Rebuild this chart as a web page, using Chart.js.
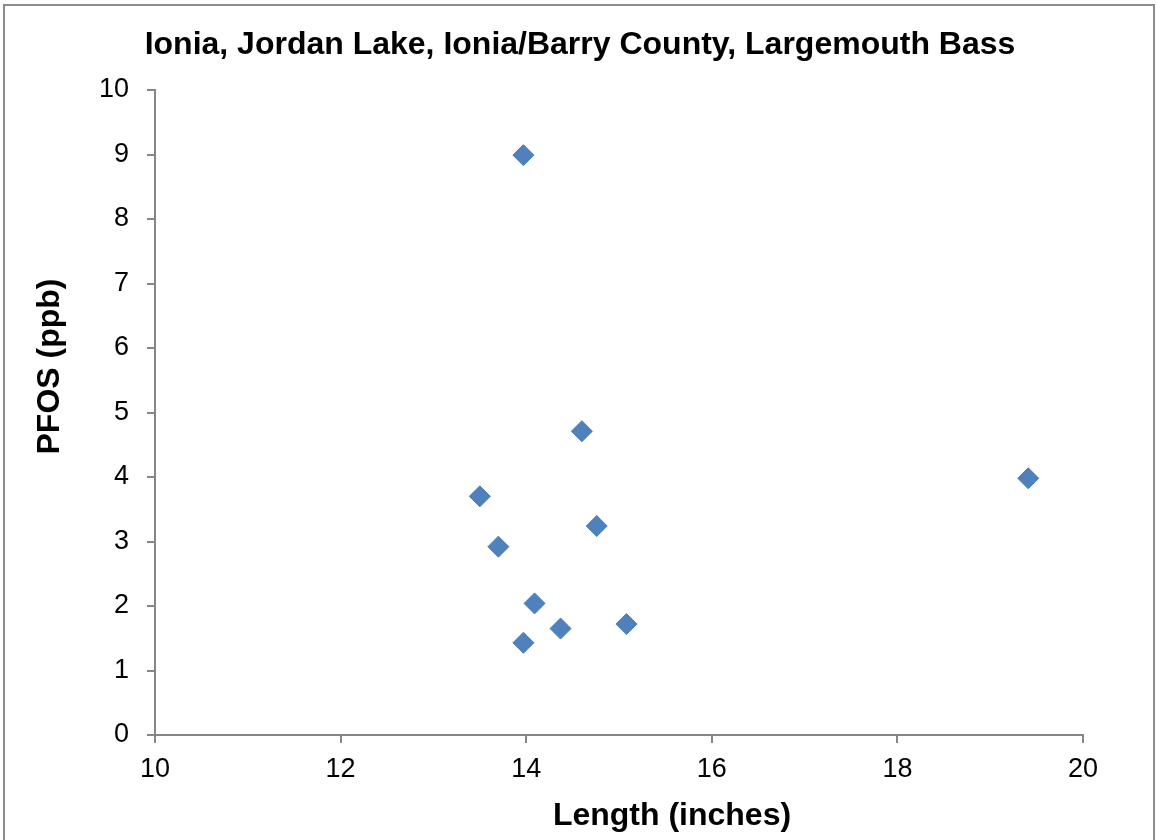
<!DOCTYPE html>
<html>
<head>
<meta charset="utf-8">
<script src="https://cdn.jsdelivr.net/npm/chart.js@4/dist/chart.umd.min.js"></script>
<style>
  html, body { margin: 0; padding: 0; background: #fff; overflow: hidden; }
  #wrap { width: 1156px; height: 840px; }
</style>
</head>
<body>
<div id="wrap"><canvas id="chart" width="1156" height="840"></canvas></div>
<script>
// fish length vs PFOS
const lengthInches = [13.97, 14.60, 13.50, 19.41, 14.76, 13.70, 14.09, 15.08, 14.37, 13.97];
const pfosPpb = [8.99, 4.71, 3.70, 3.98, 3.24, 2.92, 2.04, 1.72, 1.65, 1.43];

const chartTitle = "Ionia, Jordan Lake, Ionia/Barry County, Largemouth Bass";
const xTitle = "Length (inches)";
const yTitle = "PFOS (ppb)";

const AXIS_GREY = "#868686";
const FONT = "Arial, 'Liberation Sans', sans-serif";

// titles sit off-centre in the original, so draw them by hand
const titles = {
  id: "titles",
  afterDraw(chart) {
    const { ctx, chartArea } = chart;
    ctx.save();
    ctx.fillStyle = "#000";
    ctx.font = "bold 32px " + FONT;
    ctx.textAlign = "center";
    ctx.textBaseline = "middle";
    ctx.fillText(chartTitle, 580, 45);
    ctx.fillText(xTitle, (chartArea.left + chartArea.right) / 2 + 53, 816);
    ctx.translate(50, (chartArea.top + chartArea.bottom) / 2 - 46);
    ctx.rotate(-Math.PI / 2);
    ctx.fillText(yTitle, 0, 0);
    ctx.restore();
  },
};

const frame = {
  id: "frame",
  beforeDraw(chart) {
    const ctx = chart.ctx;
    ctx.save();
    ctx.fillStyle = "#fff";
    ctx.fillRect(0, 0, chart.width, chart.height);
    ctx.strokeStyle = "#8c8c8c";
    ctx.lineWidth = 2;
    ctx.strokeRect(4, 5, 1150, 850);
    ctx.restore();
  },
};

new Chart(document.getElementById("chart"), {
  type: "scatter",
  data: {
    datasets: [{
      data: lengthInches.map((x, i) => ({ x, y: pfosPpb[i] })),
      pointStyle: "rectRot",
      pointRadius: 10.5,
      pointHoverRadius: 10.5,
      backgroundColor: "#4F81BD",
      borderColor: "#4A7EBB",
      borderWidth: 1,
    }],
  },
  options: {
    responsive: false,
    animation: false,
    layout: { padding: { left: 0, right: 73, top: 90, bottom: 0 } },
    plugins: {
      legend: { display: false },
      tooltip: { enabled: false },
      title: { display: false },
    },
    scales: {
      x: {
        type: "linear",
        min: 10,
        max: 20,
        ticks: { stepSize: 2, color: "#000", font: { family: FONT, size: 27 }, padding: 10 },
        grid: { drawOnChartArea: false, tickLength: 8, color: AXIS_GREY, lineWidth: 2 },
        border: { color: AXIS_GREY, width: 2 },
        afterFit: (s) => { s.height = 105; },
      },
      y: {
        min: 0,
        max: 10,
        ticks: { stepSize: 1, color: "#000", font: { family: FONT, size: 27 }, padding: 18 },
        grid: { drawOnChartArea: false, tickLength: 8, color: AXIS_GREY, lineWidth: 2 },
        border: { color: AXIS_GREY, width: 2 },
        afterFit: (s) => { s.width = 155; },
      },
    },
  },
  plugins: [frame, titles],
});
</script>
</body>
</html>
